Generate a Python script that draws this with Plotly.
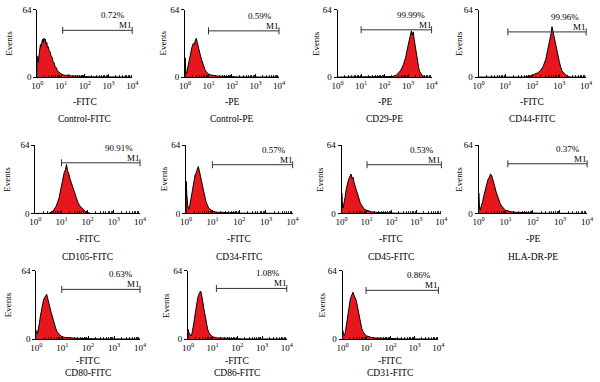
import plotly.graph_objects as go

# ---------------- data ----------------
panel_names = ["Control-FITC", "Control-PE", "CD29-PE", "CD44-FITC",
               "CD105-FITC", "CD34-FITC", "CD45-FITC", "HLA-DR-PE",
               "CD80-FITC", "CD86-FITC", "CD31-FITC"]
channel_labels = ["-FITC", "-PE", "-PE", "-FITC", "-FITC", "-FITC",
                  "-FITC", "-PE", "-FITC", "-FITC", "-FITC"]
percent_labels = ["0.72%", "0.59%", "99.99%", "99.96%", "90.91%", "0.57%",
                  "0.53%", "0.37%", "0.63%", "1.08%", "0.86%"]
gate_start_log = [1.07, 1.0, 1.0, 1.09, 1.0, 0.99, 1.02, 1.08, 0.98, 1.15, 0.98]
gate_end_log = [4, 4, 4, 4, 4, 4, 4, 4, 4, 4, 4]
gate_level = [44.5, 44, 45, 43, 47.5, 45.7, 45.7, 46.6, 46.6, 47.5, 45.7]
x_tick_labels = ["10<sup>0</sup>", "10<sup>1</sup>", "10<sup>2</sup>",
                 "10<sup>3</sup>", "10<sup>4</sup>"]
y_tick_labels = ["0", "64"]

# histograms: log10 fluorescence and event counts
ctrl_fitc_log = [0, 0.01, 0.04, 0.07, 0.1, 0.13, 0.16, 0.19, 0.22, 0.25, 0.28, 0.31, 0.34, 0.37, 0.4, 0.43,
                 0.46, 0.5, 0.54, 0.58, 0.62, 0.66, 0.7, 0.75, 0.8, 0.85, 0.9, 1.0, 1.1, 1.2, 1.3, 1.45,
                 1.6, 1.8, 2.0, 2.3, 2.6, 4.0]
ctrl_fitc_cnt = [0, 20, 14, 22, 27, 31, 29, 34, 36, 33, 37, 35, 36, 31, 33, 28,
                 29, 25, 24, 20, 19, 15, 14, 10, 9, 6, 5, 3, 2, 1.5, 2, 1,
                 1, 0.5, 0.6, 0.2, 0.1, 0]
ctrl_pe_log = [0, 0.01, 0.03, 0.06, 0.1, 0.15, 0.2, 0.25, 0.3, 0.35, 0.4, 0.44, 0.48, 0.52, 0.56, 0.6,
               0.65, 0.7, 0.75, 0.8, 0.85, 0.9, 0.95, 1.0, 1.1, 1.2, 1.35, 1.5, 1.7, 2.0, 2.3, 4.0]
ctrl_pe_cnt = [0, 18, 6, 3, 8, 14, 20, 26, 29, 32, 31, 35, 37, 33, 30, 26,
               21, 17, 13, 10, 7, 5, 4, 3, 2, 1.5, 1, 0.8, 0.5, 0.3, 0.1, 0]
cd29_log = [0, 2.2, 2.3, 2.4, 2.5, 2.6, 2.7, 2.8, 2.9, 2.95, 3.0, 3.05, 3.1, 3.14, 3.18, 3.22,
            3.26, 3.3, 3.35, 3.4, 3.45, 3.5, 3.55, 3.6, 3.7, 3.8, 4.0]
cd29_cnt = [0, 0, 0.5, 1, 2, 4, 7, 12, 19, 25, 31, 37, 40, 44, 40, 43,
            36, 30, 22, 15, 9, 5, 3, 1.5, 0.5, 0, 0]
cd44_log = [0, 1.7, 1.9, 2.0, 2.1, 2.2, 2.3, 2.4, 2.5, 2.55, 2.6, 2.65, 2.7, 2.73, 2.76, 2.8,
            2.85, 2.9, 2.95, 3.0, 3.05, 3.1, 3.2, 3.3, 3.4, 4.0]
cd44_cnt = [0, 0, 1, 1.5, 3, 4, 6, 10, 17, 23, 29, 36, 42, 48, 44, 39,
            33, 27, 21, 15, 10, 6, 3, 1, 0, 0]
cd105_log = [0, 0.5, 0.6, 0.7, 0.8, 0.9, 0.95, 1.0, 1.05, 1.1, 1.15, 1.19, 1.23, 1.28, 1.33, 1.4,
             1.47, 1.55, 1.63, 1.7, 1.8, 1.9, 2.0, 2.1, 4.0]
cd105_cnt = [0, 0, 1, 3, 7, 14, 20, 27, 33, 38, 41, 46, 40, 37, 32, 27,
             21, 15, 10, 7, 4, 2, 1, 0, 0]
cd34_log = [0, 0.01, 0.03, 0.06, 0.1, 0.14, 0.18, 0.22, 0.26, 0.3, 0.34, 0.38, 0.42, 0.46, 0.5, 0.54,
            0.58, 0.62, 0.66, 0.7, 0.75, 0.8, 0.85, 0.9, 0.95, 1.0, 1.1, 1.2, 1.4, 1.6, 1.8, 2.0, 4.0]
cd34_cnt = [0, 30, 18, 8, 4, 7, 13, 20, 27, 31, 36, 38, 41, 44, 40, 36,
            32, 26, 21, 16, 11, 8, 5, 4, 3, 2, 1.5, 1, 1, 0.5, 0.8, 0.2, 0]
cd45_log = [0, 0.01, 0.03, 0.06, 0.1, 0.14, 0.18, 0.22, 0.26, 0.3, 0.34, 0.38, 0.42, 0.46, 0.5, 0.55,
            0.6, 0.65, 0.7, 0.75, 0.8, 0.85, 0.9, 1.0, 1.1, 1.2, 1.35, 1.5, 1.7, 2.0, 2.5, 4.0]
cd45_cnt = [0, 19, 10, 5, 9, 15, 22, 27, 30, 33, 35, 37, 33, 34, 29, 25,
            21, 17, 13, 10, 8, 6, 4, 3, 2, 1.5, 1, 1, 0.5, 0.3, 0.1, 0]
hladr_log = [0, 0.01, 0.03, 0.06, 0.1, 0.15, 0.2, 0.25, 0.3, 0.35, 0.4, 0.44, 0.48, 0.52, 0.56, 0.6,
             0.65, 0.7, 0.75, 0.8, 0.85, 0.9, 0.95, 1.0, 1.1, 1.2, 1.4, 1.6, 1.8, 2.2, 4.0]
hladr_cnt = [0, 19, 8, 3, 6, 11, 17, 23, 28, 32, 34, 37, 36, 33, 29, 25,
             20, 16, 12, 9, 7, 5, 4, 3, 2, 1.5, 1, 0.8, 0.5, 0.2, 0]
cd80_log = [0, 0.01, 0.04, 0.08, 0.12, 0.16, 0.2, 0.24, 0.28, 0.32, 0.36, 0.4, 0.44, 0.48, 0.52, 0.56,
            0.6, 0.65, 0.7, 0.75, 0.8, 0.85, 0.9, 0.95, 1.0, 1.1, 1.2, 1.35, 1.5, 1.7, 2.0, 2.5, 4.0]
cd80_cnt = [0, 8, 5, 9, 15, 22, 28, 33, 37, 39, 41, 42, 38, 35, 30, 26,
            22, 17, 13, 10, 7, 5, 4, 3, 2, 1.5, 1.5, 1, 0.8, 0.5, 0.3, 0.1, 0]
cd86_log = [0, 0.01, 0.04, 0.08, 0.12, 0.16, 0.2, 0.24, 0.28, 0.32, 0.36, 0.4, 0.44, 0.48, 0.51, 0.54,
            0.57, 0.6, 0.64, 0.68, 0.72, 0.76, 0.8, 0.85, 0.9, 0.95, 1.0, 1.1, 1.2, 1.4, 1.6, 1.8, 2.2, 4.0]
cd86_cnt = [0, 9, 6, 4, 3, 5, 9, 15, 22, 29, 35, 39, 42, 44, 45, 43,
            40, 35, 29, 23, 17, 13, 9, 6, 4, 3, 2, 1.5, 1, 1, 0.8, 0.4, 0.1, 0]
cd31_log = [0, 0.01, 0.04, 0.08, 0.12, 0.16, 0.2, 0.24, 0.28, 0.32, 0.36, 0.4, 0.44, 0.48, 0.52, 0.56,
            0.6, 0.64, 0.68, 0.72, 0.76, 0.8, 0.85, 0.9, 0.95, 1.0, 1.1, 1.2, 1.35, 1.5, 1.7, 2.0, 2.5, 4.0]
cd31_cnt = [0, 8, 4, 3, 7, 13, 20, 27, 33, 37, 40, 42, 44, 41, 39, 37,
            33, 28, 23, 18, 14, 10, 7, 5, 4, 3, 2, 1.5, 1, 0.8, 0.5, 0.3, 0.1, 0]

hist_logs = [ctrl_fitc_log, ctrl_pe_log, cd29_log, cd44_log, cd105_log, cd34_log,
             cd45_log, hladr_log, cd80_log, cd86_log, cd31_log]
hist_counts = [ctrl_fitc_cnt, ctrl_pe_cnt, cd29_cnt, cd44_cnt, cd105_cnt, cd34_cnt,
               cd45_cnt, hladr_cnt, cd80_cnt, cd86_cnt, cd31_cnt]

# ---------------- layout geometry (pixels in a 600x382 canvas) ----------------
W, H = 600, 382
x_px = [(32, 129), (183, 279), (339, 435), (483, 593),
        (30, 137), (184, 293), (343, 445), (483, 594),
        (31, 137), (186, 287), (344, 442)]
row_px = [(5, 74), (144, 214), (273, 343)]
events_shift = [-28, -22, -21, -19]
chan_shift = [-25, -26, -22]
name_shift = [-42, -44, -34]

FONT = "Liberation Serif"
RED = "#e8161d"

fig = go.Figure()
layout = dict(width=W, height=H, margin=dict(l=0, r=0, t=0, b=0),
              paper_bgcolor="white", plot_bgcolor="white", showlegend=False,
              font=dict(family=FONT, size=9, color="black"))
annotations = []

minor_vals = [m * 10 ** k for k in range(4) for m in range(2, 10)]

for i in range(11):
    row, col = divmod(i, 4)
    xs = "" if i == 0 else str(i + 1)
    xa, ya = "x" + xs, "y" + xs
    x0, x1 = x_px[i]
    t0, t1 = row_px[row]
    layout["xaxis" + xs] = dict(
        domain=[x0 / W, x1 / W], anchor=ya, type="log", range=[0, 4],
        tickmode="array", tickvals=[1, 10, 100, 1000, 10000], ticktext=x_tick_labels,
        ticks="inside", ticklen=3, tickwidth=1, tickcolor="black",
        minor=dict(tickmode="array", tickvals=minor_vals, ticks="inside", ticklen=2,
                   tickwidth=0.8, tickcolor="black"),
        showline=True, linecolor="black", linewidth=1, showgrid=False, zeroline=False,
        tickfont=dict(family=FONT, size=9), fixedrange=True)
    layout["yaxis" + xs] = dict(
        domain=[1 - t1 / H, 1 - t0 / H], anchor=xa, range=[0, 64],
        tickmode="array", tickvals=[0, 64], ticktext=y_tick_labels,
        ticks="outside", ticklen=3, tickwidth=1, tickcolor="black",
        showline=True, linecolor="black", linewidth=1, showgrid=False, zeroline=False,
        tickfont=dict(family=FONT, size=9), fixedrange=True)

    fig.add_trace(go.Scatter(
        x=[10 ** v for v in hist_logs[i]], y=hist_counts[i], xaxis=xa, yaxis=ya,
        mode="lines", fill="tozeroy", fillcolor=RED,
        line=dict(color="black", width=1), hoverinfo="skip"))
    fig.add_trace(go.Scatter(
        x=[10 ** gate_start_log[i], 10 ** gate_end_log[i]], y=[gate_level[i], gate_level[i]],
        xaxis=xa, yaxis=ya, mode="lines+markers", cliponaxis=False,
        line=dict(color="#333333", width=1),
        marker=dict(symbol="line-ns-open", size=5, color="#333333",
                    line=dict(width=1, color="#333333")),
        hoverinfo="skip"))

    annotations.append(dict(xref=xa, yref=ya, x=gate_end_log[i], y=gate_level[i],
                            text=percent_labels[i], showarrow=False, xanchor="right",
                            yanchor="bottom", xshift=-5, yshift=8,
                            font=dict(family=FONT, size=9)))
    annotations.append(dict(xref=xa, yref=ya, x=gate_end_log[i], y=gate_level[i],
                            text="M1", showarrow=False, xanchor="right",
                            yanchor="bottom", xshift=2, yshift=-2,
                            font=dict(family=FONT, size=9)))
    annotations.append(dict(xref=xa + " domain", yref=ya + " domain", x=0, y=0.5,
                            text="Events", showarrow=False, textangle=-90,
                            xanchor="center", yanchor="middle", xshift=events_shift[col],
                            font=dict(family=FONT, size=9)))
    annotations.append(dict(xref=xa + " domain", yref=ya + " domain", x=0.5, y=0,
                            text=channel_labels[i], showarrow=False,
                            xanchor="center", yanchor="middle", yshift=chan_shift[row],
                            font=dict(family=FONT, size=9.5)))
    annotations.append(dict(xref=xa + " domain", yref=ya + " domain", x=0.5, y=0,
                            text=panel_names[i], showarrow=False,
                            xanchor="center", yanchor="middle", yshift=name_shift[row],
                            font=dict(family=FONT, size=9.5)))

layout["annotations"] = annotations
fig.update_layout(**layout)
fig.write_html(
    "out.html",
    config={"displayModeBar": False, "staticPlot": True},
    post_script="document.body.style.margin='0';document.body.style.overflow='hidden';",
)
